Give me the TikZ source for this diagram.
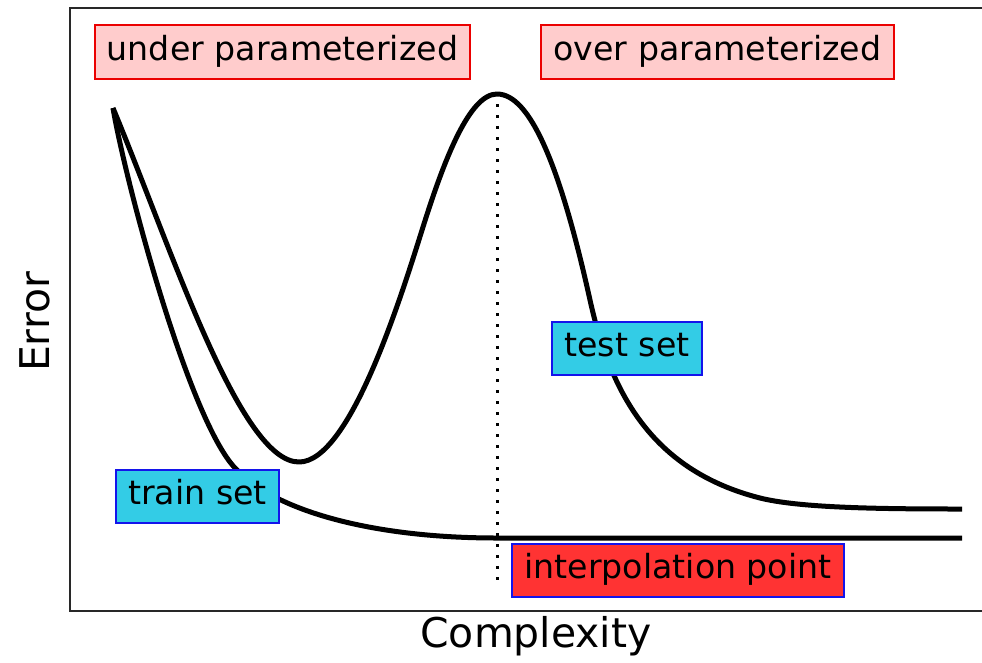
\documentclass[tikz,border=0pt]{standalone}
\usepackage{fontspec}
\setmainfont{DejaVu Sans}
\definecolor{regimefill}{RGB}{255,204,204}
\definecolor{regimeline}{RGB}{235,0,0}
\definecolor{setfill}{RGB}{51,204,230}
\definecolor{setline}{RGB}{20,20,235}
\definecolor{pointfill}{RGB}{255,51,51}
\definecolor{framegray}{RGB}{40,40,40}
\tikzset{
  labelbox/.style={line width=1.5pt, inner xsep=9pt, inner ysep=8pt,
    text height=18pt, text depth=6pt, font=\fontsize{24.9}{30}\selectfont},
  regime/.style={labelbox, draw=regimeline, fill=regimefill},
  dataset/.style={labelbox, draw=setline, fill=setfill},
  axislabel/.style={font=\fontsize{30.7}{36}\selectfont},
  curve/.style={line width=3.75pt, line join=round},
}
\begin{document}
\begin{tikzpicture}[x=0.75pt,y=0.75pt,yscale=-1,xscale=1]
\path[use as bounding box] (0,0) rectangle (982,662);

%Axes frame
\draw [color=framegray, line width=1.5pt] (982,8) -- (70,8) -- (70,611) -- (982,611);

%Dotted line at the peak
\draw [line width=2.25pt, dash pattern=on 2.25pt off 6pt] (497,104) -- (497,585);

%Curve Lines (test error)
\draw [curve] (113,108) .. controls (172,250) and (240,462) .. (299,462)
  .. controls (350,462) and (401,297) .. (423,227)
  .. controls (445,157) and (470,94) .. (497,94)
  .. controls (530,94) and (560,165) .. (590,300)
  .. controls (610,390) and (650,470) .. (760,498)
  .. controls (800,508) and (880,509) .. (962,509);
%Curve Lines (train error)
\draw [curve] (113,108) .. controls (125,180) and (190,425) .. (237,470)
  .. controls (275,510) and (370,538) .. (497,538) -- (962,538);

% Text Node
\node [regime] (under) at (282.5,52) {under parameterized};
% Text Node
\node [regime] (over) at (717.5,52) {over parameterized};
% Text Node
\node [dataset] (train) at (197.5,496.5) {train set};
% Text Node
\node [dataset] (test) at (627,348.5) {test set};
% Text Node
\node [dataset, fill=pointfill] (interp) at (678,570.5) {interpolation point};
% Text Node
\node [axislabel] (xlabel) at (536,636) {Complexity};
% Text Node
\node [axislabel, rotate=90] (ylabel) at (35,322) {Error};

\end{tikzpicture}
\end{document}
